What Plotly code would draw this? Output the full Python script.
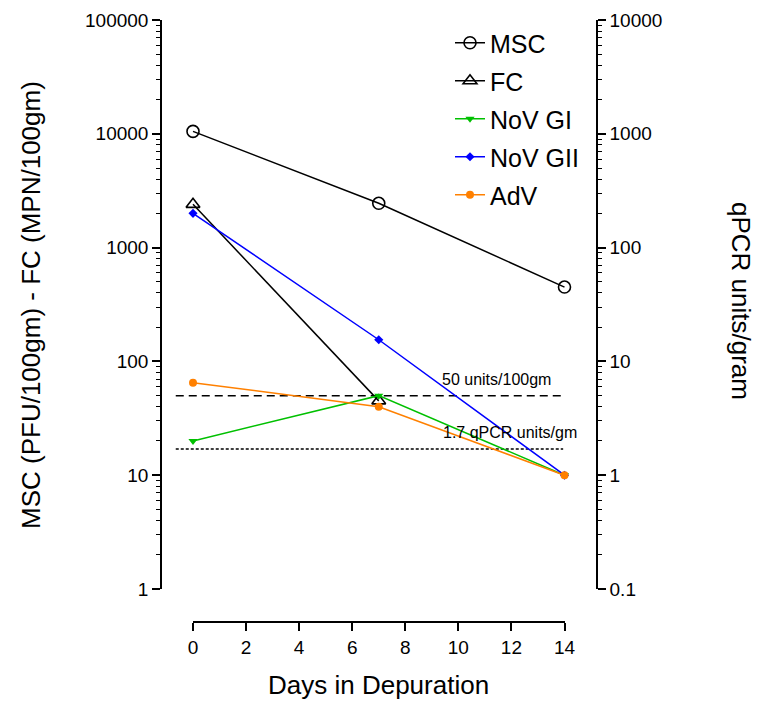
import numpy as np
import plotly.graph_objects as go

# data
days = [0, 7, 14]
fc_days = [0, 7]
msc = [10500, 2450, 450]
fc = [2400, 45]
nov_gi = [20, 50, 10]
nov_gii = [2000, 155, 10]
adv = [65, 40, 10]

limit_values = [50, 17]
limit_labels = ['50 units/100gm', '1.7 qPCR units/gm']
limit_dash = ['8px,5px', '3px,2px']
limit_label_x = [11.45, 11.95]
limit_span = [-0.65, 13.95]

x_ticks = [0, 2, 4, 6, 8, 10, 12, 14]
left_ticks = [1, 10, 100, 1000, 10000, 100000]
right_ticks = [0.1, 1, 10, 100, 1000, 10000]

FONT = 'Liberation Sans, Arial, sans-serif'
GREEN = '#00c000'
BLUE = '#0000ff'
ORANGE = '#ff8000'

# page has an 8px body margin, so reference pixel positions are shifted by it
OFF = 8
L, R, T, B = 161 - OFF, 597 - OFF, 20 - OFF, 622 - OFF
X0_PX, X14_PX = 193 - OFF, 564.5 - OFF
Y_BOTTOM = 589 - OFF
px_per_day = (X14_PX - X0_PX) / 14
plot_w = R - L
plot_h = B - T


def px(xpix):
    return (xpix - OFF - L) / plot_w


def py(ypix):
    return (B - (ypix - OFF)) / plot_h


fig = go.Figure()

series = [
    ('MSC', days, msc, 'black', dict(symbol='circle-open', size=12, line=dict(width=1.6))),
    ('FC', fc_days, fc, 'black', dict(symbol='triangle-up-open', size=12, line=dict(width=1.6))),
    ('NoV GI', days, nov_gi, GREEN, dict(symbol='triangle-down', size=8)),
    ('NoV GII', days, nov_gii, BLUE, dict(symbol='diamond', size=7)),
    ('AdV', days, adv, ORANGE, dict(symbol='circle', size=8)),
]

for val, dash in zip(limit_values, limit_dash):
    fig.add_trace(go.Scatter(
        x=limit_span, y=[val, val], mode='lines', showlegend=False,
        line=dict(color='black', width=1.5, dash=dash), hoverinfo='skip',
    ))

for name, x, y, color, marker in series:
    fig.add_trace(go.Scatter(
        x=x, y=y, name=name, mode='lines+markers', legendgroup=name,
        line=dict(color=color, width=1.5),
        marker=dict(color=color, **marker),
        cliponaxis=False,
    ))

# helper traces so the tick axes get drawn
fig.add_trace(go.Scatter(x=days, y=msc, xaxis='x2', yaxis='y', mode='markers',
                         marker=dict(opacity=0), showlegend=False, hoverinfo='skip'))
fig.add_trace(go.Scatter(x=days, y=msc, xaxis='x', yaxis='y2', mode='markers',
                         marker=dict(opacity=0), showlegend=False, hoverinfo='skip'))

for text, lx, val in zip(limit_labels, limit_label_x, limit_values):
    fig.add_annotation(
        x=lx, y=np.log10(val), xref='x', yref='y', text=text, showarrow=False,
        yanchor='middle', yshift=16, font=dict(size=16, color='black', family=FONT),
    )

tick_font = dict(size=19, color='black', family=FONT)
y_common = dict(
    type='log', showgrid=False, zeroline=False, showline=True, linecolor='black',
    linewidth=1.5, ticks='outside', ticklen=8, tickwidth=1.5, tickcolor='black',
    tickfont=tick_font, anchor='free',
    minor=dict(ticks='outside', ticklen=4, tickwidth=1, tickcolor='black', dtick='D1', showgrid=False),
)

fig.update_layout(
    width=765, height=702,
    margin=dict(l=L, r=765 - R, t=T, b=702 - B),
    template='none',
    paper_bgcolor='white', plot_bgcolor='rgba(0,0,0,0)',
    font=dict(family=FONT, color='black'),
    xaxis=dict(
        domain=[0, 1], visible=False, showgrid=False, zeroline=False,
        range=[-(X0_PX - L) / px_per_day, 14 + (R - X14_PX) / px_per_day],
    ),
    xaxis2=dict(
        domain=[(X0_PX - L) / plot_w, (X14_PX - L) / plot_w], range=[0, 14],
        anchor='free', position=0, tickvals=x_ticks, showgrid=False, zeroline=False,
        showline=True, linecolor='black', linewidth=1.5, ticks='outside', ticklen=8,
        tickwidth=1.5, tickcolor='black', tickfont=tick_font,
    ),
    yaxis=dict(domain=[(B - Y_BOTTOM) / plot_h, 1], range=[0, 5], position=0,
               tickvals=left_ticks, ticktext=[str(v) for v in left_ticks], **y_common),
    yaxis2=dict(overlaying='y', side='right', range=[-1, 4], position=1,
                tickvals=right_ticks, ticktext=[f'{v:g}' for v in right_ticks], **y_common),
    legend=dict(
        x=px(455) - 5 / plot_w, y=py(20), xanchor='left', yanchor='top',
        font=dict(size=25, color='black', family=FONT), bgcolor='rgba(0,0,0,0)',
        tracegroupgap=2.5, itemwidth=30,
    ),
    showlegend=True,
)

title_font = dict(size=26, family=FONT, color='black')
fig.add_annotation(text='Days in Depuration', x=px(378), y=py(685), xref='paper', yref='paper',
                   xanchor='center', yanchor='middle', showarrow=False, font=title_font)
fig.add_annotation(text='MSC (PFU/100gm) - FC (MPN/100gm)', x=px(31), y=py(305),
                   xref='paper', yref='paper', xanchor='center', yanchor='middle',
                   textangle=-90, showarrow=False, font=title_font)
fig.add_annotation(text='qPCR units/gram', x=px(741), y=py(301),
                   xref='paper', yref='paper', xanchor='center', yanchor='middle',
                   textangle=90, showarrow=False, font=title_font)

fig.write_html('out.html')
